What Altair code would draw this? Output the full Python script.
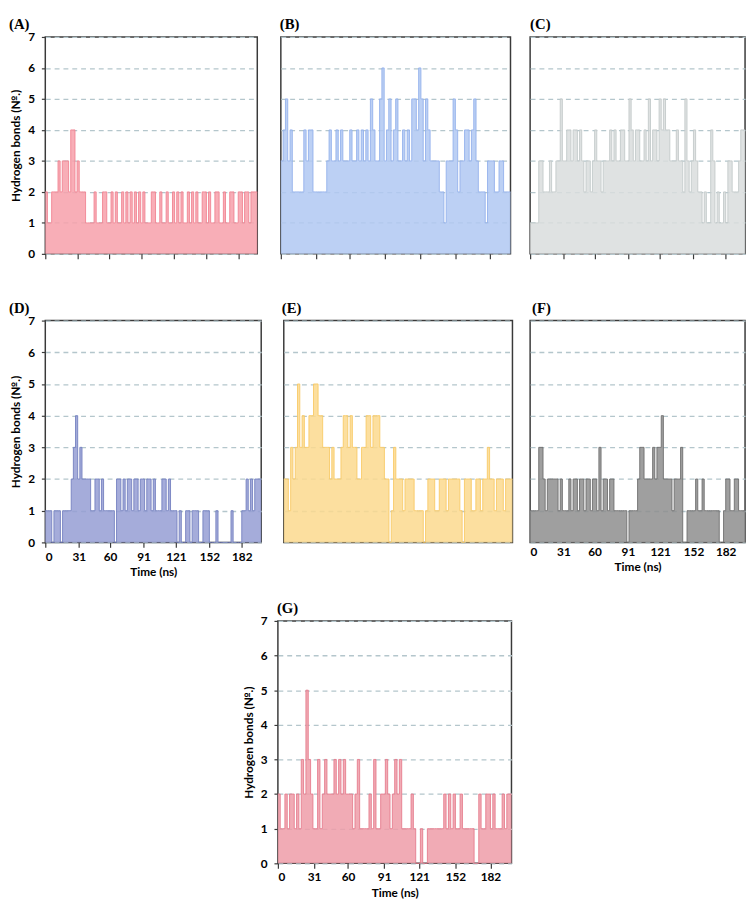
import altair as alt
import pandas as pd

# sampling interval of the series (ns)
step_ns = 2
x_ticks = [0, 31, 60, 91, 121, 152, 182]
y_ticks = [0, 1, 2, 3, 4, 5, 6, 7]

hb_A = [2,1,1,2,2,2,3,2,3,3, 3,2,4,4,2,3,2,2,2,1, 1,1,1,2,1,1,1,2,2,1, 1,2,1,2,1,1,2,1,2,1,
        2,1,2,1,2,1,2,1,1,1, 2,2,1,1,2,1,1,2,1,1, 2,1,2,1,2,1,1,2,1,2, 1,2,1,1,2,2,1,2,1,1,
        2,2,1,1,2,1,1,2,2,1, 1,2,2,1,2,2,1,2,2,2]
hb_B = [3,4,5,3,4,2,2,2,2,2, 4,3,4,4,2,2,2,2,2,2, 3,4,3,3,4,3,4,3,3,3, 4,3,3,4,3,4,3,4,3,5,
        4,3,3,5,6,3,4,5,3,4, 5,3,3,4,3,4,3,5,5,4, 6,5,3,5,4,3,3,3,3,2, 2,1,3,3,3,5,4,2,3,3,
        4,4,3,4,5,3,2,2,2,1, 3,3,3,2,2,3,3,2,2,2]
hb_C = [1,1,1,1,3,3,2,2,2,3, 2,2,3,3,5,3,3,4,4,3, 4,4,3,4,3,2,3,3,2,3, 4,3,3,2,3,3,3,4,3,4,
        3,3,4,4,3,3,5,4,3,4, 4,3,3,4,3,5,3,4,4,3, 5,4,5,4,4,3,3,3,4,3, 3,2,5,3,2,3,4,3,2,2,
        1,2,1,1,4,3,1,2,1,1, 2,1,3,3,2,2,2,3,4,4]
hb_D = [1,1,1,0,1,1,1,0,1,1, 1,1,2,3,4,2,3,2,2,2, 2,1,1,2,2,1,2,1,1,1, 1,1,0,2,2,1,2,1,2,2,
        1,2,2,1,2,2,1,2,2,1, 2,1,1,1,2,2,1,2,1,1, 1,0,1,0,0,1,1,0,1,1, 1,0,0,1,1,1,0,0,0,1,
        0,0,0,0,0,0,1,0,0,0, 0,1,1,2,1,2,1,2,2,2]
hb_E = [2,2,1,3,2,3,5,3,4,3, 3,4,4,5,5,4,4,3,3,3, 2,3,2,2,2,3,4,4,3,4, 3,3,2,2,3,3,4,4,3,4,
        4,4,3,3,2,2,0,1,3,2, 2,2,1,2,2,2,2,1,1,1, 1,0,1,2,2,2,1,1,2,2, 2,1,2,2,2,2,2,1,0,2,
        2,2,1,1,2,2,1,2,2,3, 2,2,1,2,2,2,1,2,2,2]
hb_F = [1,1,1,1,3,3,2,1,2,2, 2,2,2,1,2,1,1,1,2,1, 2,2,1,2,2,1,2,2,1,2, 2,1,3,1,2,2,1,2,2,1,
        1,1,1,1,1,0,1,1,1,1, 2,3,3,2,2,2,2,3,2,3, 3,4,2,2,2,2,1,2,2,2, 3,0,0,1,1,1,1,2,1,1,
        2,1,1,1,1,1,1,1,0,0, 1,2,2,1,1,2,2,1,1,1]
hb_G = [2,1,1,2,1,2,2,1,2,1, 3,2,5,3,2,1,1,3,1,2, 3,2,2,2,3,2,3,2,3,2, 2,2,1,2,3,1,1,1,1,2,
        1,3,1,1,2,2,3,2,1,2, 3,2,3,1,1,1,1,2,1,0, 0,1,0,0,1,1,1,1,1,1, 1,2,1,2,1,2,1,1,2,1,
        1,1,1,1,0,0,2,1,1,2, 2,1,2,1,1,1,2,1,2,2]

FONT = "Lato"
GRID = "#b4c6cc"
BORDER = "#3a3a3a"


def make_df(vals):
    t = [i * step_ns for i in range(len(vals))] + [len(vals) * step_ns]
    v = list(vals) + [vals[-1]]
    return pd.DataFrame({"t": t, "hb": v})


def panel(label, vals, fill, line, w, h, ylab, xlab, xtick, lab_dx):
    df = make_df(vals)
    if ylab:
        yax = alt.Axis(values=y_ticks, labels=True, ticks=True, tickSize=4, tickColor=BORDER,
                       tickWidth=1.2, labelPadding=7, labelFont=FONT, labelFontWeight="bold",
                       labelFontSize=12, labelColor="black", labelOverlap=False, domain=False,
                       grid=True, gridDash=[5, 4], gridColor=GRID, gridWidth=1.3,
                       title="Hydrogen bonds (№.)", titleFont=FONT, titleFontWeight="bold",
                       titleFontSize=12, titleColor="black", titlePadding=5)
    else:
        yax = alt.Axis(values=y_ticks, labels=False, ticks=False, domain=False, grid=True,
                       gridDash=[5, 4], gridColor=GRID, gridWidth=1.3, title=None)
    xkw = dict(values=x_ticks, grid=False, domain=False, ticks=xtick, tickSize=5,
               tickColor=BORDER, tickWidth=1.2, labels=xlab, labelOverlap=False)
    if xlab:
        xkw.update(labelFont=FONT, labelFontWeight="bold", labelFontSize=12, labelColor="black",
                   labelPadding=4, title="Time (ns)", titleFont=FONT, titleFontWeight="bold",
                   titleFontSize=12, titleColor="black", titlePadding=5)
    else:
        xkw.update(title=None)
    xax = alt.Axis(**xkw)
    xenc = alt.X("t:Q", scale=alt.Scale(domain=[0, 200], nice=False), axis=xax)
    yenc = alt.Y("hb:Q", scale=alt.Scale(domain=[0, 7], nice=False), axis=yax)
    base = alt.Chart(df).encode(x=xenc, y=yenc)
    area = base.mark_area(interpolate="step-after", color=fill, opacity=0.85)
    ln = base.mark_line(interpolate="step-after", color=line, strokeWidth=0.9)
    tag = alt.Chart(pd.DataFrame({"lab": [label]})).mark_text(
        font="Liberation Serif", fontSize=15, fontWeight="bold", color="black",
        align="left", baseline="top"
    ).encode(text="lab:N", x=alt.value(lab_dx), y=alt.value(-20))
    return alt.layer(area, ln, tag).properties(width=w, height=h)


pA = panel("(A)", hb_A, "#f7a0aa", "#f08391", 216, 221, True, False, True, -37)
pB = panel("(B)", hb_B, "#b0c8f2", "#93b1ec", 234, 221, False, False, True, -1)
pC = panel("(C)", hb_C, "#d9dddd", "#c3caca", 219, 221, False, False, True, 0)
pD = panel("(D)", hb_D, "#959ed3", "#7480c0", 220, 226, True, True, True, -37)
pE = panel("(E)", hb_E, "#fcd98e", "#f8ca66", 233, 226, False, False, False, -2)
pF = panel("(F)", hb_F, "#8e8e8e", "#6e6e6e", 219, 226, False, True, False, 2)
pG = panel("(G)", hb_G, "#ee9ca8", "#e57c8c", 238, 247, True, True, True, -1)

spacer = alt.Chart(pd.DataFrame({"v": [0]})).mark_point(opacity=0).encode(
    x=alt.value(0), y=alt.value(0)
).properties(width=199, height=10, view=alt.ViewBackground(stroke="transparent"))

row1 = alt.hconcat(alt.hconcat(pA, pB, spacing=18), pC, spacing=14)
row2 = alt.hconcat(alt.hconcat(pD, pE, spacing=17), pF, spacing=12)
row3 = alt.hconcat(spacer, pG, spacing=0)

chart = alt.vconcat(alt.vconcat(row1, row2, spacing=40), row3, spacing=22).properties(
    padding={"left": 0, "top": 0, "right": 0, "bottom": 0}, background="white"
).configure_view(stroke=BORDER, strokeWidth=1.5)

chart.save("out.html", embed_options={"renderer": "svg", "actions": False})
